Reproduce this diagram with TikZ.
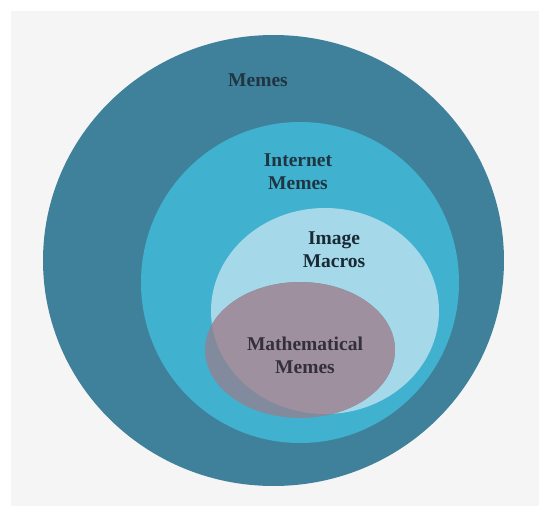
\documentclass[tikz,border=0pt]{standalone}
\usepackage{fontspec}
\setmainfont{Liberation Serif}
\definecolor{bgc}{HTML}{F5F5F5}
\definecolor{outerc}{HTML}{3F819B}
\definecolor{midc}{HTML}{40B1CF}
\definecolor{lightc}{HTML}{A5D8E9}
\definecolor{mathc}{HTML}{9E909F}
\definecolor{txtc}{HTML}{1F3542}
\definecolor{txtd}{HTML}{33303A}
\begin{document}
\begin{tikzpicture}[x=1pt,y=-1pt,
  lbl/.style={font=\fontsize{19.5}{23.3}\selectfont\bfseries, align=center, inner sep=0pt}]
\useasboundingbox (0,0) rectangle (539,506);
\fill[white] (0,0) rectangle (539,506);
\fill[bgc] (11,11) rectangle (539,506);
\fill[outerc] (273.5,260.5) ellipse [x radius=230.5pt, y radius=225.5pt];
\fill[midc] (300,282.5) ellipse [x radius=159pt, y radius=160.5pt];
\fill[lightc] (325,311) ellipse [x radius=114pt, y radius=103pt];
\begin{scope}
  \clip (300,282.5) ellipse [x radius=159pt, y radius=160.5pt];
  \fill[mathc!70!outerc] (300,350) ellipse [x radius=95pt, y radius=68pt];
\end{scope}
\begin{scope}
  \clip (325,311) ellipse [x radius=114pt, y radius=103pt];
  \fill[mathc] (300,350) ellipse [x radius=95pt, y radius=68pt];
\end{scope}
\node[lbl, text=txtc] (memes) at (258,80) {Memes};
\node[lbl, text=txtc] (internet) at (298,171.5) {Internet\\Memes};
\node[lbl, text=txtc!80!black] (image) at (334,250) {Image\\Macros};
\node[lbl, text=txtd] (math) at (305,355) {Mathematical\\Memes};
\end{tikzpicture}
\end{document}
